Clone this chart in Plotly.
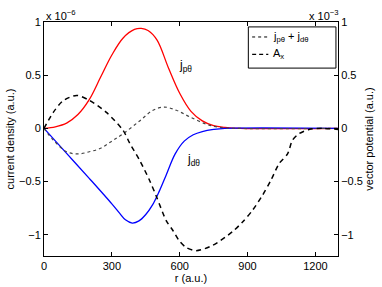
import plotly.graph_objects as go

# ---- data (current density in units of 1e-6, vector potential in units of 1e-3)
r_p = [0, 50, 100, 150, 200, 250, 300, 350, 400, 430, 460, 500, 550, 600, 650, 700, 750, 800, 870, 1300]
j_p = [0, 0.015, 0.05, 0.13, 0.27, 0.48, 0.69, 0.85, 0.93, 0.94, 0.92, 0.83, 0.57, 0.33, 0.16, 0.07, 0.025, 0.01, 0, 0]

r_d = [0, 100, 200, 300, 335, 360, 390, 420, 450, 480, 510, 540, 580, 620, 660, 700, 750, 800, 1300]
j_d = [0, -0.235, -0.47, -0.71, -0.80, -0.86, -0.89, -0.87, -0.81, -0.72, -0.59, -0.44, -0.24, -0.12, -0.06, -0.03, -0.01, 0, 0]

r_s = [0, 41, 100, 151, 200, 247, 300, 350, 423, 482, 533, 585, 643, 717, 775, 850, 1300]
j_s = [0, -0.11, -0.22, -0.24, -0.22, -0.19, -0.12, -0.05, 0.07, 0.17, 0.20, 0.17, 0.11, 0.04, 0.01, 0, 0]

r_a = [0, 41, 85, 144, 203, 276, 350, 379, 423, 467, 497, 541, 570, 599, 629, 673, 746, 834,
       878, 922, 966, 1003, 1040, 1077, 1099, 1128, 1172, 1231, 1300]
a_x = [0, 0.15, 0.26, 0.31, 0.26, 0.15, -0.02, -0.14, -0.30, -0.49, -0.64, -0.87, -0.96, -1.06,
       -1.12, -1.15, -1.10, -0.97, -0.88, -0.77, -0.63, -0.49, -0.33, -0.24, -0.11, -0.05, -0.01, 0, -0.01]

x_ticks = [0, 300, 600, 900, 1200]
y_ticks = [-1, -0.5, 0, 0.5, 1]
y_ticktext = ["\u22121", "\u22120.5", "0", "0.5", "1"]

FONT = "Liberation Sans"
BLACK = "#000000"

fig = go.Figure()
fig.add_trace(go.Scatter(x=r_p, y=j_p, mode="lines", line=dict(color="#ff0000", width=1.3, shape="spline", smoothing=1.0), showlegend=False))
fig.add_trace(go.Scatter(x=r_d, y=j_d, mode="lines", line=dict(color="#0000ff", width=1.3, shape="spline", smoothing=1.0), showlegend=False))
fig.add_trace(go.Scatter(x=r_s, y=j_s, mode="lines", line=dict(color="#444444", width=1.2, dash="dot", shape="spline", smoothing=1.0), showlegend=False))
fig.add_trace(go.Scatter(x=r_a, y=a_x, mode="lines", yaxis="y2", line=dict(color=BLACK, width=1.5, dash="5px,4px", shape="spline", smoothing=0.8), showlegend=False))

axis_common = dict(showline=True, linecolor=BLACK, linewidth=1, ticks="inside", ticklen=4,
                   tickcolor=BLACK, showgrid=False, zeroline=False, automargin=False,
                   tickfont=dict(family=FONT, size=11, color=BLACK))
tfont = dict(family=FONT, size=11, color=BLACK)

fig.update_layout(
    width=382, height=287,
    margin=dict(l=44, r=44, t=22, b=31),
    paper_bgcolor="white", plot_bgcolor="white",
    font=dict(family=FONT, size=11, color=BLACK),
    xaxis=dict(range=[0, 1300], tickvals=x_ticks, mirror="ticks",
               title=dict(text="r (a.u.)", standoff=0, font=tfont), **axis_common),
    yaxis=dict(range=[-1.2, 1], tickvals=y_ticks, ticktext=y_ticktext,
               title=dict(text="current density (a.u.)", standoff=2, font=tfont), **axis_common),
    yaxis2=dict(range=[-1.2, 1], tickvals=y_ticks, ticktext=y_ticktext, overlaying="y", side="right",
                title=dict(text="vector potential (a.u.)", standoff=2, font=tfont), **axis_common),
)

# exponent labels
fig.add_annotation(xref="paper", yref="paper", x=0, y=1, xanchor="left", yanchor="bottom",
                   text="x 10<sup>\u22126</sup>", showarrow=False, font=tfont, yshift=-2)
fig.add_annotation(xref="paper", yref="paper", x=1.01, y=1, xanchor="right", yanchor="bottom",
                   text="x 10<sup>\u22123</sup>", showarrow=False, font=tfont, yshift=-2)

# curve labels
lfont = dict(family=FONT, size=12, color=BLACK)
fig.add_annotation(x=590, y=0.59, xref="x", yref="y", xanchor="left", yanchor="middle",
                   text="j<sub>p\u03b8</sub>", showarrow=False, font=lfont)
fig.add_annotation(x=625, y=-0.30, xref="x", yref="y", xanchor="left", yanchor="middle",
                   text="j<sub>d\u03b8</sub>", showarrow=False, font=lfont)

# legend box (drawn manually for short line samples)
fig.add_shape(type="rect", xref="paper", yref="paper", x0=0.695, x1=0.993, y0=0.803, y1=0.979,
              line=dict(color=BLACK, width=1), fillcolor="white", layer="above")
fig.add_shape(type="line", xref="paper", yref="paper", x0=0.708, x1=0.763, y0=0.936, y1=0.936,
              line=dict(color=BLACK, width=1, dash="dot"), layer="above")
fig.add_shape(type="line", xref="paper", yref="paper", x0=0.708, x1=0.763, y0=0.862, y1=0.862,
              line=dict(color=BLACK, width=1.2, dash="4px,3px"), layer="above")
fig.add_annotation(xref="paper", yref="paper", x=0.773, y=0.936, xanchor="left", yanchor="middle",
                   text="j<sub>p\u03b8</sub> + j<sub>d\u03b8</sub>", showarrow=False, font=tfont)
fig.add_annotation(xref="paper", yref="paper", x=0.773, y=0.862, xanchor="left", yanchor="middle",
                   text="A<sub>x</sub>", showarrow=False, font=tfont)

fig.write_html("out.html", config={"displayModeBar": False},
               post_script="document.body.style.margin='0';document.body.style.overflow='hidden';")
